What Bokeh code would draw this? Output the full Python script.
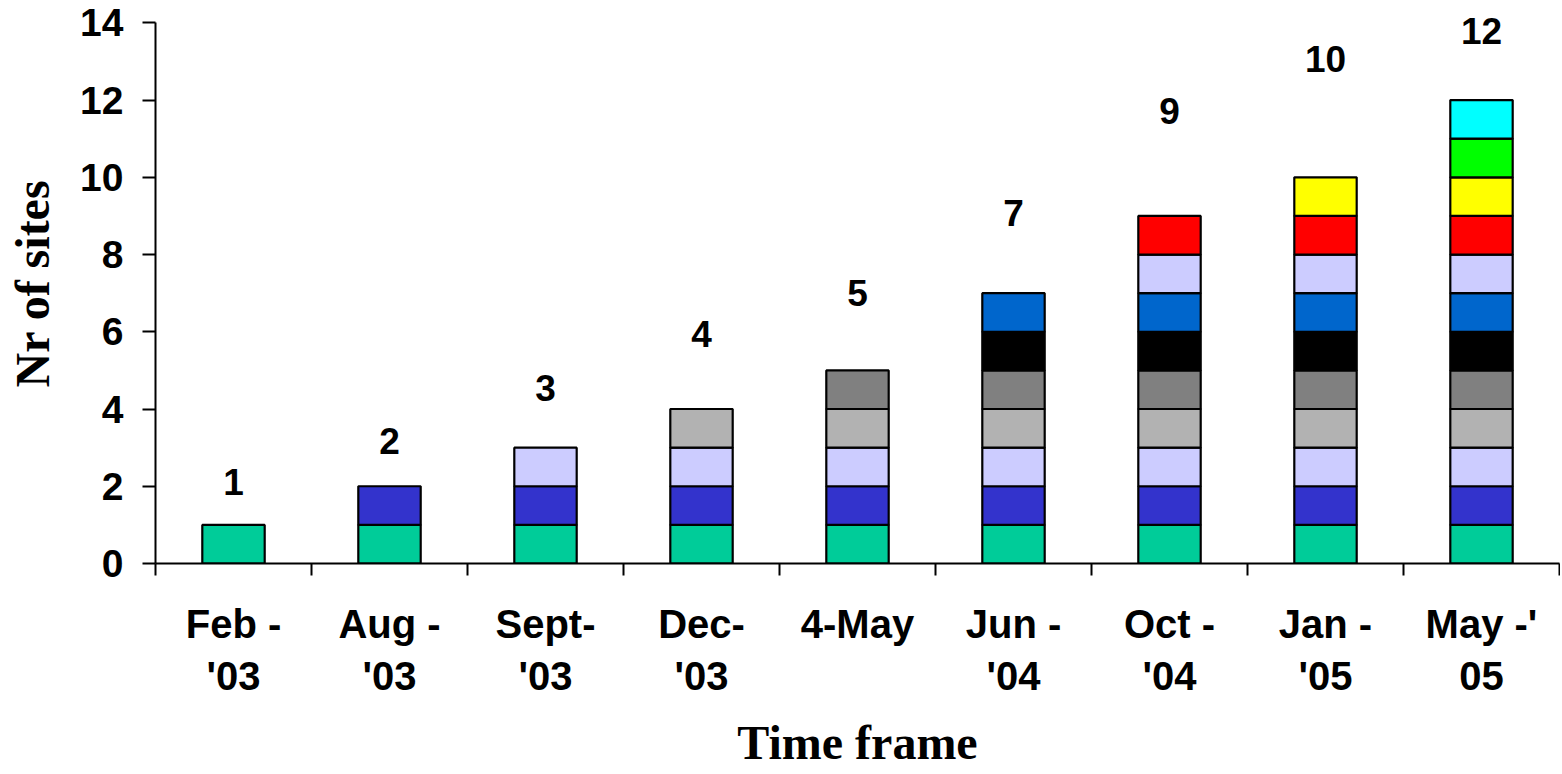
from bokeh.plotting import figure
from bokeh.models import Range1d, FixedTicker, LabelSet, ColumnDataSource
from bokeh.embed import file_html
from bokeh.resources import INLINE
from bokeh.core.properties import value

# ---- data ----
categories = ["Feb -\n'03", "Aug -\n'03", "Sept-\n'03", "Dec-\n'03", "4-May",
              "Jun -\n'04", "Oct -\n'04", "Jan -\n'05", "May -'\n05"]
totals = [1, 2, 3, 4, 5, 7, 9, 10, 12]
label_heights = [2.10, 3.18, 4.55, 5.93, 7.0, 9.08, 11.72, 13.07, 13.79]

s1 = [1, 1, 1, 1, 1, 1, 1, 1, 1]
s2 = [0, 1, 1, 1, 1, 1, 1, 1, 1]
s3 = [0, 0, 1, 1, 1, 1, 1, 1, 1]
s4 = [0, 0, 0, 1, 1, 1, 1, 1, 1]
s5 = [0, 0, 0, 0, 1, 1, 1, 1, 1]
s6 = [0, 0, 0, 0, 0, 1, 1, 1, 1]
s7 = [0, 0, 0, 0, 0, 1, 1, 1, 1]
s8 = [0, 0, 0, 0, 0, 0, 1, 1, 1]
s9 = [0, 0, 0, 0, 0, 0, 1, 1, 1]
s10 = [0, 0, 0, 0, 0, 0, 0, 1, 1]
s11 = [0, 0, 0, 0, 0, 0, 0, 0, 1]
s12 = [0, 0, 0, 0, 0, 0, 0, 0, 1]
series = [s1, s2, s3, s4, s5, s6, s7, s8, s9, s10, s11, s12]
series_colors = ["#00CC99", "#3333CC", "#CCCCFF", "#B2B2B2", "#808080", "#000000",
                 "#0066CC", "#CCCCFF", "#FF0000", "#FFFF00", "#00FF00", "#00FFFF"]
y_ticks = [0, 2, 4, 6, 8, 10, 12, 14]
y_max = 14
x_title = "Time frame"
y_title = "Nr of sites"

# ---- figure ----
n = len(categories)
xs = [i + 0.5 for i in range(n)]

# a little headroom above 14 so that the top data label is not clipped
p = figure(width=1560, height=772, output_backend="svg", toolbar_location=None,
           x_range=Range1d(0, n), y_range=Range1d(0, y_max + 0.5),
           min_border_left=155, min_border_right=1, min_border_top=3,
           min_border_bottom=209)
p.outline_line_color = None
p.xgrid.visible = False
p.ygrid.visible = False
p.background_fill_color = "white"
p.border_fill_color = "white"

bottoms = [0] * n
for vals, col in zip(series, series_colors):
    bx, bb, bt = [], [], []
    for i, v in enumerate(vals):
        if v > 0:
            bx.append(xs[i])
            bb.append(bottoms[i])
            bt.append(bottoms[i] + v)
            bottoms[i] += v
    p.vbar(x=bx, bottom=bb, top=bt, width=0.4, fill_color=col,
           line_color="black", line_width=2.2)

lab_src = ColumnDataSource(dict(x=xs, y=label_heights, t=[str(t) for t in totals]))
p.add_layout(LabelSet(x="x", y="y", text="t", source=lab_src,
                      text_align="center", text_baseline="middle",
                      text_font=value("Liberation Sans"), text_font_style="bold",
                      text_font_size=value("37px"), text_color="black"))

# x axis
xa = p.xaxis[0]
xa.ticker = FixedTicker(ticks=xs, minor_ticks=list(range(n + 1)))
xa.major_label_overrides = {x: c for x, c in zip(xs, categories)}
xa.major_tick_out = 0
xa.major_tick_in = 0
xa.minor_tick_out = 12
xa.minor_tick_in = 0
xa.minor_tick_line_color = "black"
xa.minor_tick_line_width = 2
xa.axis_line_color = "black"
xa.axis_line_width = 2
xa.major_label_standoff = 26
xa.major_label_text_font = "Liberation Sans"
xa.major_label_text_font_style = "bold"
xa.major_label_text_font_size = "40px"
xa.major_label_text_color = "black"
xa.axis_label = x_title
xa.axis_label_text_font = "Liberation Serif"
xa.axis_label_text_font_style = "bold"
xa.axis_label_text_font_size = "48px"
xa.axis_label_text_color = "black"
xa.axis_label_standoff = 15

# y axis
ya = p.yaxis[0]
ya.ticker = FixedTicker(ticks=y_ticks)
ya.bounds = (0, y_max)
ya.minor_tick_line_color = None
ya.major_tick_out = 13
ya.major_tick_in = 0
ya.major_tick_line_color = "black"
ya.major_tick_line_width = 2
ya.axis_line_color = "black"
ya.axis_line_width = 2
ya.major_label_standoff = 19
ya.major_label_text_font = "Liberation Sans"
ya.major_label_text_font_style = "bold"
ya.major_label_text_font_size = "39px"
ya.major_label_text_color = "black"
ya.axis_label = y_title
ya.axis_label_text_font = "Liberation Serif"
ya.axis_label_text_font_style = "bold"
ya.axis_label_text_font_size = "48px"
ya.axis_label_text_color = "black"
ya.axis_label_standoff = 18

open("out.html", "w").write(file_html(p, INLINE))
